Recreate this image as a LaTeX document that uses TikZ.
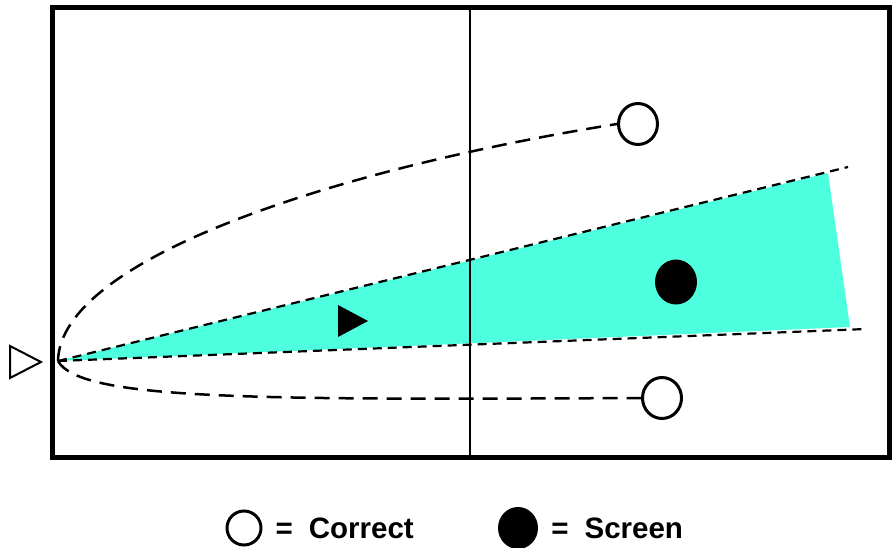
\documentclass[tikz,border=0pt]{standalone}
\usepackage{fontspec}
\setmainfont{Liberation Sans}
\usepackage{tikz}
\usetikzlibrary{positioning,shapes.geometric}
\definecolor{aqua}{RGB}{77,255,222}

\begin{document}
\begin{tikzpicture}[x=1pt,y=-1pt,
 dot/.style={ellipse,draw,line width=3pt,minimum width=39pt,minimum height=41pt,inner sep=0pt},
 hit/.style={ellipse,fill=black,minimum width=42pt,minimum height=45pt,inner sep=0pt},
 trk/.style={dash pattern=on 15pt off 9pt,line width=2.5pt},
 ray/.style={dash pattern=on 9pt off 6pt,line width=2.2pt},
 lbl/.style={font=\bfseries\fontsize{29.5}{32}\selectfont,inner sep=0pt}]
 \useasboundingbox (0,0) rectangle (892,548);
 \coordinate (apex) at (58,361);
 % visible cone
 \fill[aqua] (apex) -- (828,173) -- (850,327) -- cycle;
 \draw[ray] (apex) -- (848,167);
 \draw[ray] (apex) -- (866,329);
 \node[dot] (up) at (638,124) {};
 \node[dot] (low) at (662,398) {};
 \node[hit] (scr) at (676,282) {};
 \draw[trk] (apex) .. controls (60,260) and (330,170) .. (up.west);
 \draw[trk] (apex) .. controls (80,400) and (250,400) .. (low.west);
 \fill (338,305) -- (338,337) -- (368,321) -- cycle;
 \draw[line width=2pt] (10,346) -- (10,378) -- (41,362) -- cycle;
 % frame
 \draw[line width=2pt] (470,6) -- (470,457);
 \draw[line width=5pt] (52.5,8) rectangle (889.5,457);
 % legend
 \node[dot,minimum width=34pt,minimum height=34pt] (lgo) at (244,528) {};
 \node[lbl,right=13pt of lgo] (lgot) {=\hspace{16pt}Correct};
 \node[hit,minimum width=40pt,minimum height=42pt] (lgs) at (518,528) {};
 \node[lbl,right=13pt of lgs] (lgst) {=\hspace{16pt}Screen};
\end{tikzpicture}
\end{document}
